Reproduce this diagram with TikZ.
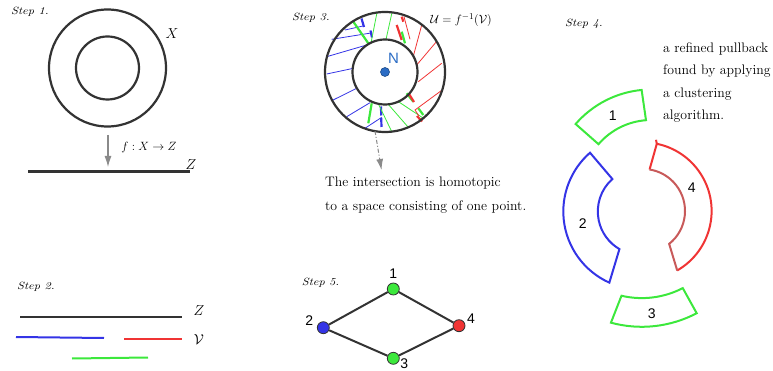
\documentclass[tikz,border=0pt]{standalone}
\usepackage{fontspec}
\usepackage{graphicx}
\usetikzlibrary{arrows.meta,calc}
\newfontfamily\hv{Liberation Sans}
\definecolor{ink}{HTML}{333333}
\definecolor{arrowgray}{HTML}{8A8A8A}
\definecolor{gblue}{HTML}{3434E6}
\definecolor{gred}{HTML}{F03434}
\definecolor{gredm}{HTML}{C85A5A}
\definecolor{ggreen}{HTML}{3CE83C}
\definecolor{nblue}{HTML}{2B6CC4}
\begin{document}
\begin{tikzpicture}[x=1pt,y=-1pt,
  steplabel/.style={anchor=west,inner sep=0pt,font=\fontsize{10.5}{12}\selectfont\itshape},
  bigmath/.style={inner sep=0pt,font=\fontsize{15}{18}\selectfont},
  ring/.style={draw=ink,line width=2.2pt},
  baseline/.style={draw=ink,line width=2.2pt},
  seg/.style={line width=2pt},
  thin/.style={line width=0.8pt},
  thick/.style={line width=2.2pt},
  grayarrow/.style={draw=arrowgray,line width=1.2pt,-{Latex[length=11pt,width=7pt]}},
  piece/.style={line width=2pt,line join=miter},
  bodytext/.style={anchor=base west,inner sep=0pt,font=\fontsize{13.8}{16}\selectfont},
  numlab/.style={inner sep=0pt,font=\hv\fontsize{14}{16}\selectfont},
  gnode/.style={circle,draw=ink,line width=0.8pt,minimum size=12pt,inner sep=0pt},
  gedge/.style={draw=ink,line width=2pt}
]
\useasboundingbox (0,0) rectangle (773,371);

% ---------------- Step 1
\node[steplabel] (s1) at (11,11.5) {\scalebox{1.17}[1]{Step 1.}};
\coordinate (c1) at (107.5,68);
\draw[ring] (c1) circle[radius=58.5];
\draw[ring] (c1) circle[radius=31.5];
\node[bigmath] (X) at (172,34) {$X$};
\coordinate (a1s) at (108,135);
\coordinate (a1e) at (108,167);
\draw[grayarrow] (a1s) -- (a1e);
\node[inner sep=0pt,font=\fontsize{12}{14}\selectfont] (f) at (149,148) {$f:X\to Z$};
\coordinate (z1a) at (28,171.5);
\coordinate (z1b) at (190,171.5);
\draw[baseline] (z1a) -- (z1b);
\node[bigmath] (Z1) at (191,165) {$Z$};

% ---------------- Step 2
\node[steplabel] (s2) at (17,287) {\scalebox{1.17}[1]{Step 2.}};
\coordinate (z2a) at (20,316.7);
\coordinate (z2b) at (182,316.7);
\draw[ink,seg] (z2a) -- (z2b);
\node[bigmath] (Z2) at (199,311) {$Z$};
\coordinate (b2a) at (16,337);
\coordinate (b2b) at (104,338);
\draw[gblue,seg] (b2a) -- (b2b);
\coordinate (r2a) at (124,339);
\coordinate (r2b) at (182,339);
\draw[gred,seg] (r2a) -- (r2b);
\node[bigmath] (V2) at (199,339.5) {$\mathcal{V}$};
\coordinate (g2a) at (72,358.5);
\coordinate (g2b) at (148,357.5);
\draw[ggreen,seg] (g2a) -- (g2b);

% ---------------- Step 3
\node[steplabel] (s3) at (292,17.5) {\scalebox{1.17}[1]{Step 3.}};
\coordinate (c3) at (385,72);
% blue hatch
\draw[gblue,thin] (326.7,74) -- (352.5,68.5);
\draw[gblue,thin] (326.7,56.7) -- (366.7,45);
\draw[gblue,thin] (331.7,39.3) -- (371,33);
\draw[gblue,thin] (345,30) -- (363,26);
\draw[gblue,thin] (331.7,100.7) -- (356.7,88.3);
\draw[gblue,thin] (346.7,116.7) -- (370,102.7);
\draw[gblue,thin] (365,128.3) -- (381.7,117.3);
\draw[gblue,thick] (361.5,18.5) -- (364,27);
\draw[gblue,thick] (370.5,30.5) -- (372,37.5);
\draw[gblue,thick,dash pattern=on 9pt off 2.5pt] (381,106.5) -- (381.5,129);
% green hatch
\draw[ggreen,thin] (377,12.5) -- (371,43);
\draw[ggreen,thin] (392,12.5) -- (386,39.5);
\draw[ggreen,thin] (378.3,103.7) -- (391.7,131.6);
\draw[ggreen,thin] (388.3,104.4) -- (408.3,127.3);
\draw[ggreen,thin] (398.3,101.6) -- (423.3,118.2);
\draw[ggreen,thick] (353.3,21.7) -- (368.3,43.3);
\draw[ggreen,thick] (401.7,31.7) -- (405,43.3);
\draw[ggreen,thick] (371.7,103.3) -- (368.3,123.3);
\draw[ggreen,thick] (406.7,93.3) -- (413.3,101.7);
\draw[ggreen,thick] (418.3,108.3) -- (423.3,115);
% red hatch
\draw[gred,thin] (404,16.7) -- (410,39.3);
\draw[gred,thin] (422,24) -- (413.5,55.5);
\draw[gred,thin] (437,41) -- (416.7,65);
\draw[gred,thin] (441.7,63.3) -- (418.3,81.7);
\draw[gred,thin] (442.2,90) -- (415,110) -- (419,116);
\draw[gred,thick] (396.7,25) -- (401.7,40);
\draw[gred,thick] (401.7,16.7) -- (403.3,21.7);
\draw[gred,thick] (409,94) -- (414,102);
\draw[gred,thick] (417,116) -- (422,121.5);
% rings
\draw[ring] (c3) circle[radius=60];
\draw[ring] (c3) circle[radius=32.5];
\node[circle,fill=nblue,draw=nblue!70!black,line width=0.6pt,minimum size=9pt,inner sep=0pt] (dot) at (c3) {};
\node[inner sep=0pt,text=nblue,font=\hv\fontsize{15}{17}\selectfont] (N) at (393.5,58) {N};
\node[inner sep=0pt,font=\fontsize{12.5}{14}\selectfont] (U) at (461,20) {$\mathcal{U}=f^{-1}(\mathcal{V})$};
\coordinate (a3s) at (375,131);
\coordinate (a3e) at (381.5,170);
\draw[grayarrow,line width=1pt,dash pattern=on 4pt off 2pt on 1pt off 2pt] (a3s) -- (a3e);
\node[bodytext] (t31) at (325,186.7) {The intersection is homotopic};
\node[bodytext] (t32) at (325,210.5) {to a space consisting of one point.};

% ---------------- Step 4
\node[steplabel] (s4) at (565,24) {\scalebox{1.17}[1]{Step 4.}};
\node[bodytext] (t41) at (663,52.5) {a refined pullback};
\node[bodytext] (t42) at (663,74.9) {found by applying};
\node[bodytext] (t43) at (663,97.3) {a clustering};
\node[bodytext] (t44) at (663,119.7) {algorithm.};
% piece 1
\coordinate (p1) at (651.2,189.5);
\draw[ggreen,piece] ($(p1)+(-139.1:100)$) arc[start angle=-139.1,end angle=-95.5,radius=100]
  -- ($(p1)+(-94.3:69.5)$) arc[start angle=-94.3,end angle=-139.3,radius=69.5] -- cycle;
\node[numlab] (l1) at (612.7,116) {1};
% piece 2
\coordinate (p2) at (641.3,211.5);
\draw[gblue,piece] ($(p2)+(114.2:78)$) arc[start angle=114.2,end angle=228.9,radius=78]
  -- ($(p2)+(228.3:43.5)$) arc[start angle=228.3,end angle=120.2,radius=43.5] -- cycle;
\node[numlab] (l2) at (582.7,223.3) {2};
% piece 3
\coordinate (p3) at (641.8,209.1);
\draw[ggreen,piece] ($(p3)+(62.2:117.7)$) arc[start angle=62.2,end angle=105.2,radius=117.7]
  -- ($(p3)+(103.2:89)$) arc[start angle=103.2,end angle=62.6,radius=89] -- cycle;
\node[numlab] (l3) at (651.7,313.3) {3};
% piece 4
\coordinate (p4) at (643,211);
\draw[gred,piece] ($(p4)+(-81:42)$) -- ($(p4)+(-78.4:68.6)$) -- ++(-0.8,-4);
\draw[gred,piece] ($(p4)+(-78.4:68.6)$) arc[start angle=-78.4,end angle=60.1,radius=68.6];
\draw[gredm,piece] ($(p4)+(60.1:68.6)$) -- ($(p4)+(51.5:42)$) arc[start angle=51.5,end angle=-81,radius=42];
\node[numlab] (l4) at (691.7,187.3) {4};

% ---------------- Step 5
\node[steplabel] (s5) at (301.7,282.5) {\scalebox{1.17}[1]{Step 5.}};
\node[gnode,fill=ggreen] (n1) at (393.3,289) {};
\node[gnode,fill=gblue] (n2) at (323.3,327.7) {};
\node[gnode,fill=ggreen] (n3) at (393.3,358.3) {};
\node[gnode,fill=gred] (n4) at (459,325.7) {};
\draw[gedge] (n2) -- (n1) -- (n4) -- (n3) -- (n2);
\node[numlab] (m1) at (393.3,273.3) {1};
\node[numlab] (m2) at (309.3,321) {2};
\node[numlab] (m3) at (404.3,363.3) {3};
\node[numlab] (m4) at (471,319) {4};
\end{tikzpicture}
\end{document}
